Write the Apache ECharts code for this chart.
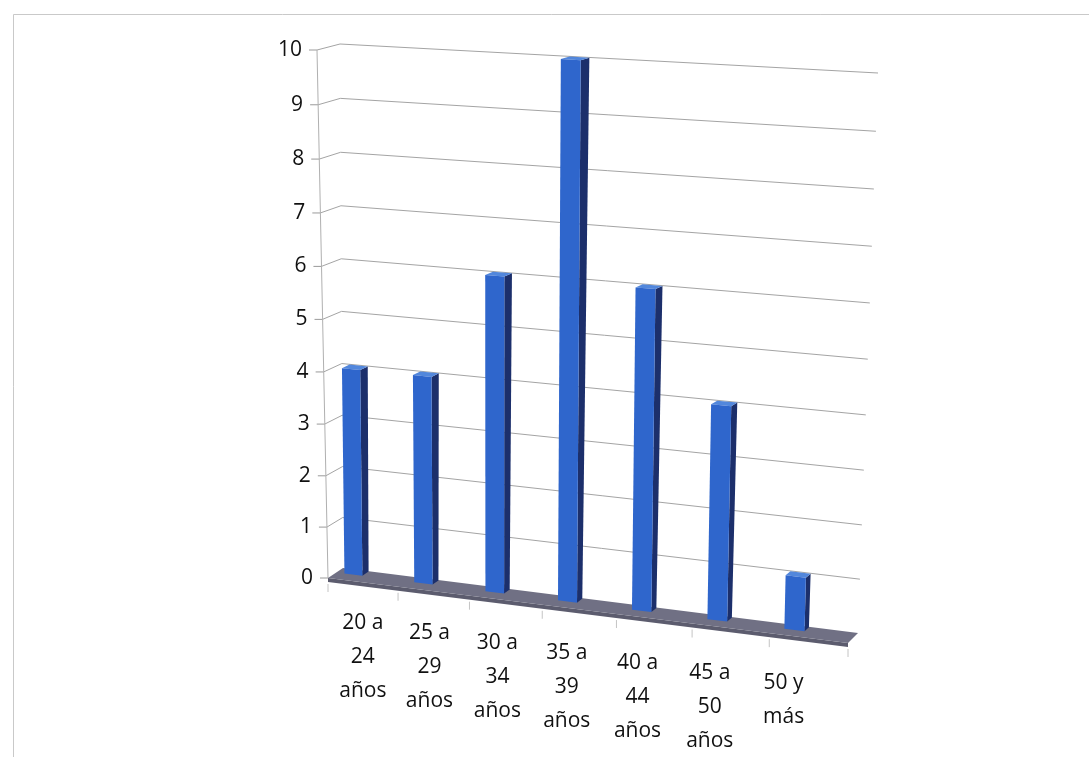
<!DOCTYPE html>
<html>
<head>
<meta charset="utf-8">
<script src="https://cdn.jsdelivr.net/npm/echarts@6/dist/echarts.min.js"></script>
<style>
  html, body { margin: 0; padding: 0; background: #ffffff; }
  #chart { width: 1089px; height: 757px; }
</style>
</head>
<body>
<div id="chart"></div>
<script>
// Age groups and number of people in each
const categories = ['20 a\n24\naños', '25 a\n29\naños', '30 a\n34\naños', '35 a\n39\naños', '40 a\n44\naños', '45 a\n50\naños', '50 y\nmás'];
const counts = [4, 4, 6, 10, 6, 4, 1];
const yTicks = [0, 1, 2, 3, 4, 5, 6, 7, 8, 9, 10];

// ---- 3D look: back wall is a perspective quad, depth runs toward the viewer ----
const WALL = { bl: [343, 568], br: [858, 633], tr: [878, 73], tl: [340, 44] };

function makeHomography(q) {
  const [x0, y0] = q.bl, [x1, y1] = q.br, [x2, y2] = q.tr, [x3, y3] = q.tl;
  const dx1 = x1 - x2, dx2 = x3 - x2, dx3 = x0 - x1 + x2 - x3;
  const dy1 = y1 - y2, dy2 = y3 - y2, dy3 = y0 - y1 + y2 - y3;
  const den = dx1 * dy2 - dx2 * dy1;
  const g = (dx3 * dy2 - dx2 * dy3) / den;
  const h = (dx1 * dy3 - dx3 * dy1) / den;
  const a = x1 - x0 + g * x1, b = x3 - x0 + h * x3, c = x0;
  const d = y1 - y0 + g * y1, e = y3 - y0 + h * y3, f = y0;
  return (u, v) => {
    const w = g * u + h * v + 1;
    return [(a * u + b * v + c) / w, (d * u + e * v + f) / w];
  };
}
const wall = makeHomography(WALL);

// s: along categories (0..1), t: along value (0..1), dep: 0 = back wall, 1 = front edge
function P(s, t, dep) {
  const p = wall(s, t);
  const dx = -15 + 5 * s - 8 * t;
  const dy = 10 - 4 * t;
  return [p[0] + dep * dx, p[1] + dep * dy];
}

const FONT = '"Open Sans", "DejaVu Sans", sans-serif';
const FONT_SIZE = 21;
const TEXT_COLOR = '#111111';
const GRID_COLOR = '#a4a4a4';
const BAR_FRONT = '#2f66cc';
const BAR_SIDE = '#1c2f6b';
const BAR_TOP = '#5287dc';
const FLOOR = '#707084';
const FLOOR_EDGE = '#5c5c6e';
const SLAB = 4;
const BAR_SHIFT = -0.036;
const BAR_HALF = 0.0185;
const BAR_FRONT_DEPTH = 0.45;
const BAR_BACK_DEPTH = 0.03;

function norm(cs) {
  return {
    s: px => (px - cs.x) / cs.width,
    t: py => (cs.y + cs.height - py) / cs.height
  };
}

function line(a, b, color, width) {
  return {
    type: 'line',
    shape: { x1: a[0], y1: a[1], x2: b[0], y2: b[1] },
    style: { stroke: color, lineWidth: width || 1 }
  };
}
function poly(points, fill) {
  return { type: 'polygon', shape: { points: points }, style: { fill: fill } };
}

// walls, gridlines, floor, value axis
function renderFrame(params, api) {
  const n = norm(params.coordSys);
  const children = [];
  yTicks.forEach(v => {
    const t = n.t(api.coord([0, v])[1]);
    const front = P(0, t, 1);
    if (v > 0) {
      children.push(line(front, P(0, t, 0), GRID_COLOR));
      children.push(line(P(0, t, 0), P(1, t, 0), GRID_COLOR));
    }
    children.push(line([front[0] - 8, front[1]], front, '#9a9a9a'));
    children.push({
      type: 'text',
      style: {
        text: String(v), x: front[0] - 15, y: front[1],
        align: 'right', verticalAlign: 'middle',
        fontSize: FONT_SIZE, fontFamily: FONT, fill: TEXT_COLOR
      }
    });
  });
  children.push(line(P(0, 0, 1), P(0, 1, 1), '#b0b0b0'));
  // floor slab: top surface plus a thin front face
  const fl = P(0, 0, 1), fr = P(1, 0, 1);
  children.push(poly([fl, fr, [fr[0], fr[1] + SLAB], [fl[0], fl[1] + SLAB]], FLOOR_EDGE));
  children.push(poly([P(0, 0, 0), P(1, 0, 0), fr, fl], FLOOR));
  // category tick marks under the front edge
  const band = api.size([1, 0])[0];
  for (let k = 0; k <= categories.length; k++) {
    const px = api.coord([0, 0])[0] - band / 2 + k * band;
    const p = P(n.s(px), 0, 1);
    children.push(line([p[0], p[1] + SLAB + 2], [p[0], p[1] + SLAB + 10], '#c4c4c4'));
  }
  return { type: 'group', children: children };
}

// one box-shaped column per age group
function renderBar(params, api) {
  const n = norm(params.coordSys);
  const idx = api.value(0);
  const base = api.coord([idx, 0]);
  const top = api.coord([idx, api.value(1)]);
  const sc = n.s(base[0]) + BAR_SHIFT;
  const t = n.t(top[1]);
  const l = sc - BAR_HALF, r = sc + BAR_HALF;
  const f = BAR_FRONT_DEPTH, b = BAR_BACK_DEPTH;
  return {
    type: 'group',
    children: [
      poly([P(r, 0, f), P(r, 0, b), P(r, t, b), P(r, t, f)], BAR_SIDE),
      poly([P(l, t, f), P(r, t, f), P(r, t, b), P(l, t, b)], BAR_TOP),
      poly([P(l, 0, f), P(r, 0, f), P(r, t, f), P(l, t, f)], BAR_FRONT)
    ]
  };
}

// category labels, following the slope of the floor
function renderLabel(params, api) {
  const n = norm(params.coordSys);
  const idx = api.value(0);
  const s = n.s(api.coord([idx, 0])[0]);
  const p = P(s, 0, 1);
  const k = s - 0.0714;
  return {
    type: 'text',
    style: {
      text: categories[idx],
      x: p[0] - 29 * k,
      y: p[1] + 41 + 5 * k - 17,
      align: 'center', verticalAlign: 'top',
      fontSize: FONT_SIZE, lineHeight: 34, fontFamily: FONT, fill: TEXT_COLOR
    }
  };
}

const chart = echarts.init(document.getElementById('chart'), null, { renderer: 'canvas' });
chart.setOption({
  backgroundColor: '#ffffff',
  animation: false,
  graphic: [{
    type: 'rect',
    shape: { x: 13.5, y: 14.5, width: 1100, height: 800 },
    style: { fill: 'none', stroke: '#c9c9c9', lineWidth: 1 },
    silent: true
  }],
  grid: { left: 340, top: 44, width: 538, height: 524 },
  xAxis: { type: 'category', data: categories, show: false },
  yAxis: { type: 'value', min: 0, max: 10, interval: 1, show: false },
  series: [
    { type: 'custom', name: 'frame', data: [[0, 0]], renderItem: renderFrame, z: 1, silent: true },
    { type: 'custom', name: 'Personas', data: counts.map((v, i) => [i, v]), renderItem: renderBar, z: 2 },
    { type: 'custom', name: 'labels', data: categories.map((c, i) => [i, 0]), renderItem: renderLabel, z: 3, silent: true }
  ]
});
</script>
</body>
</html>
